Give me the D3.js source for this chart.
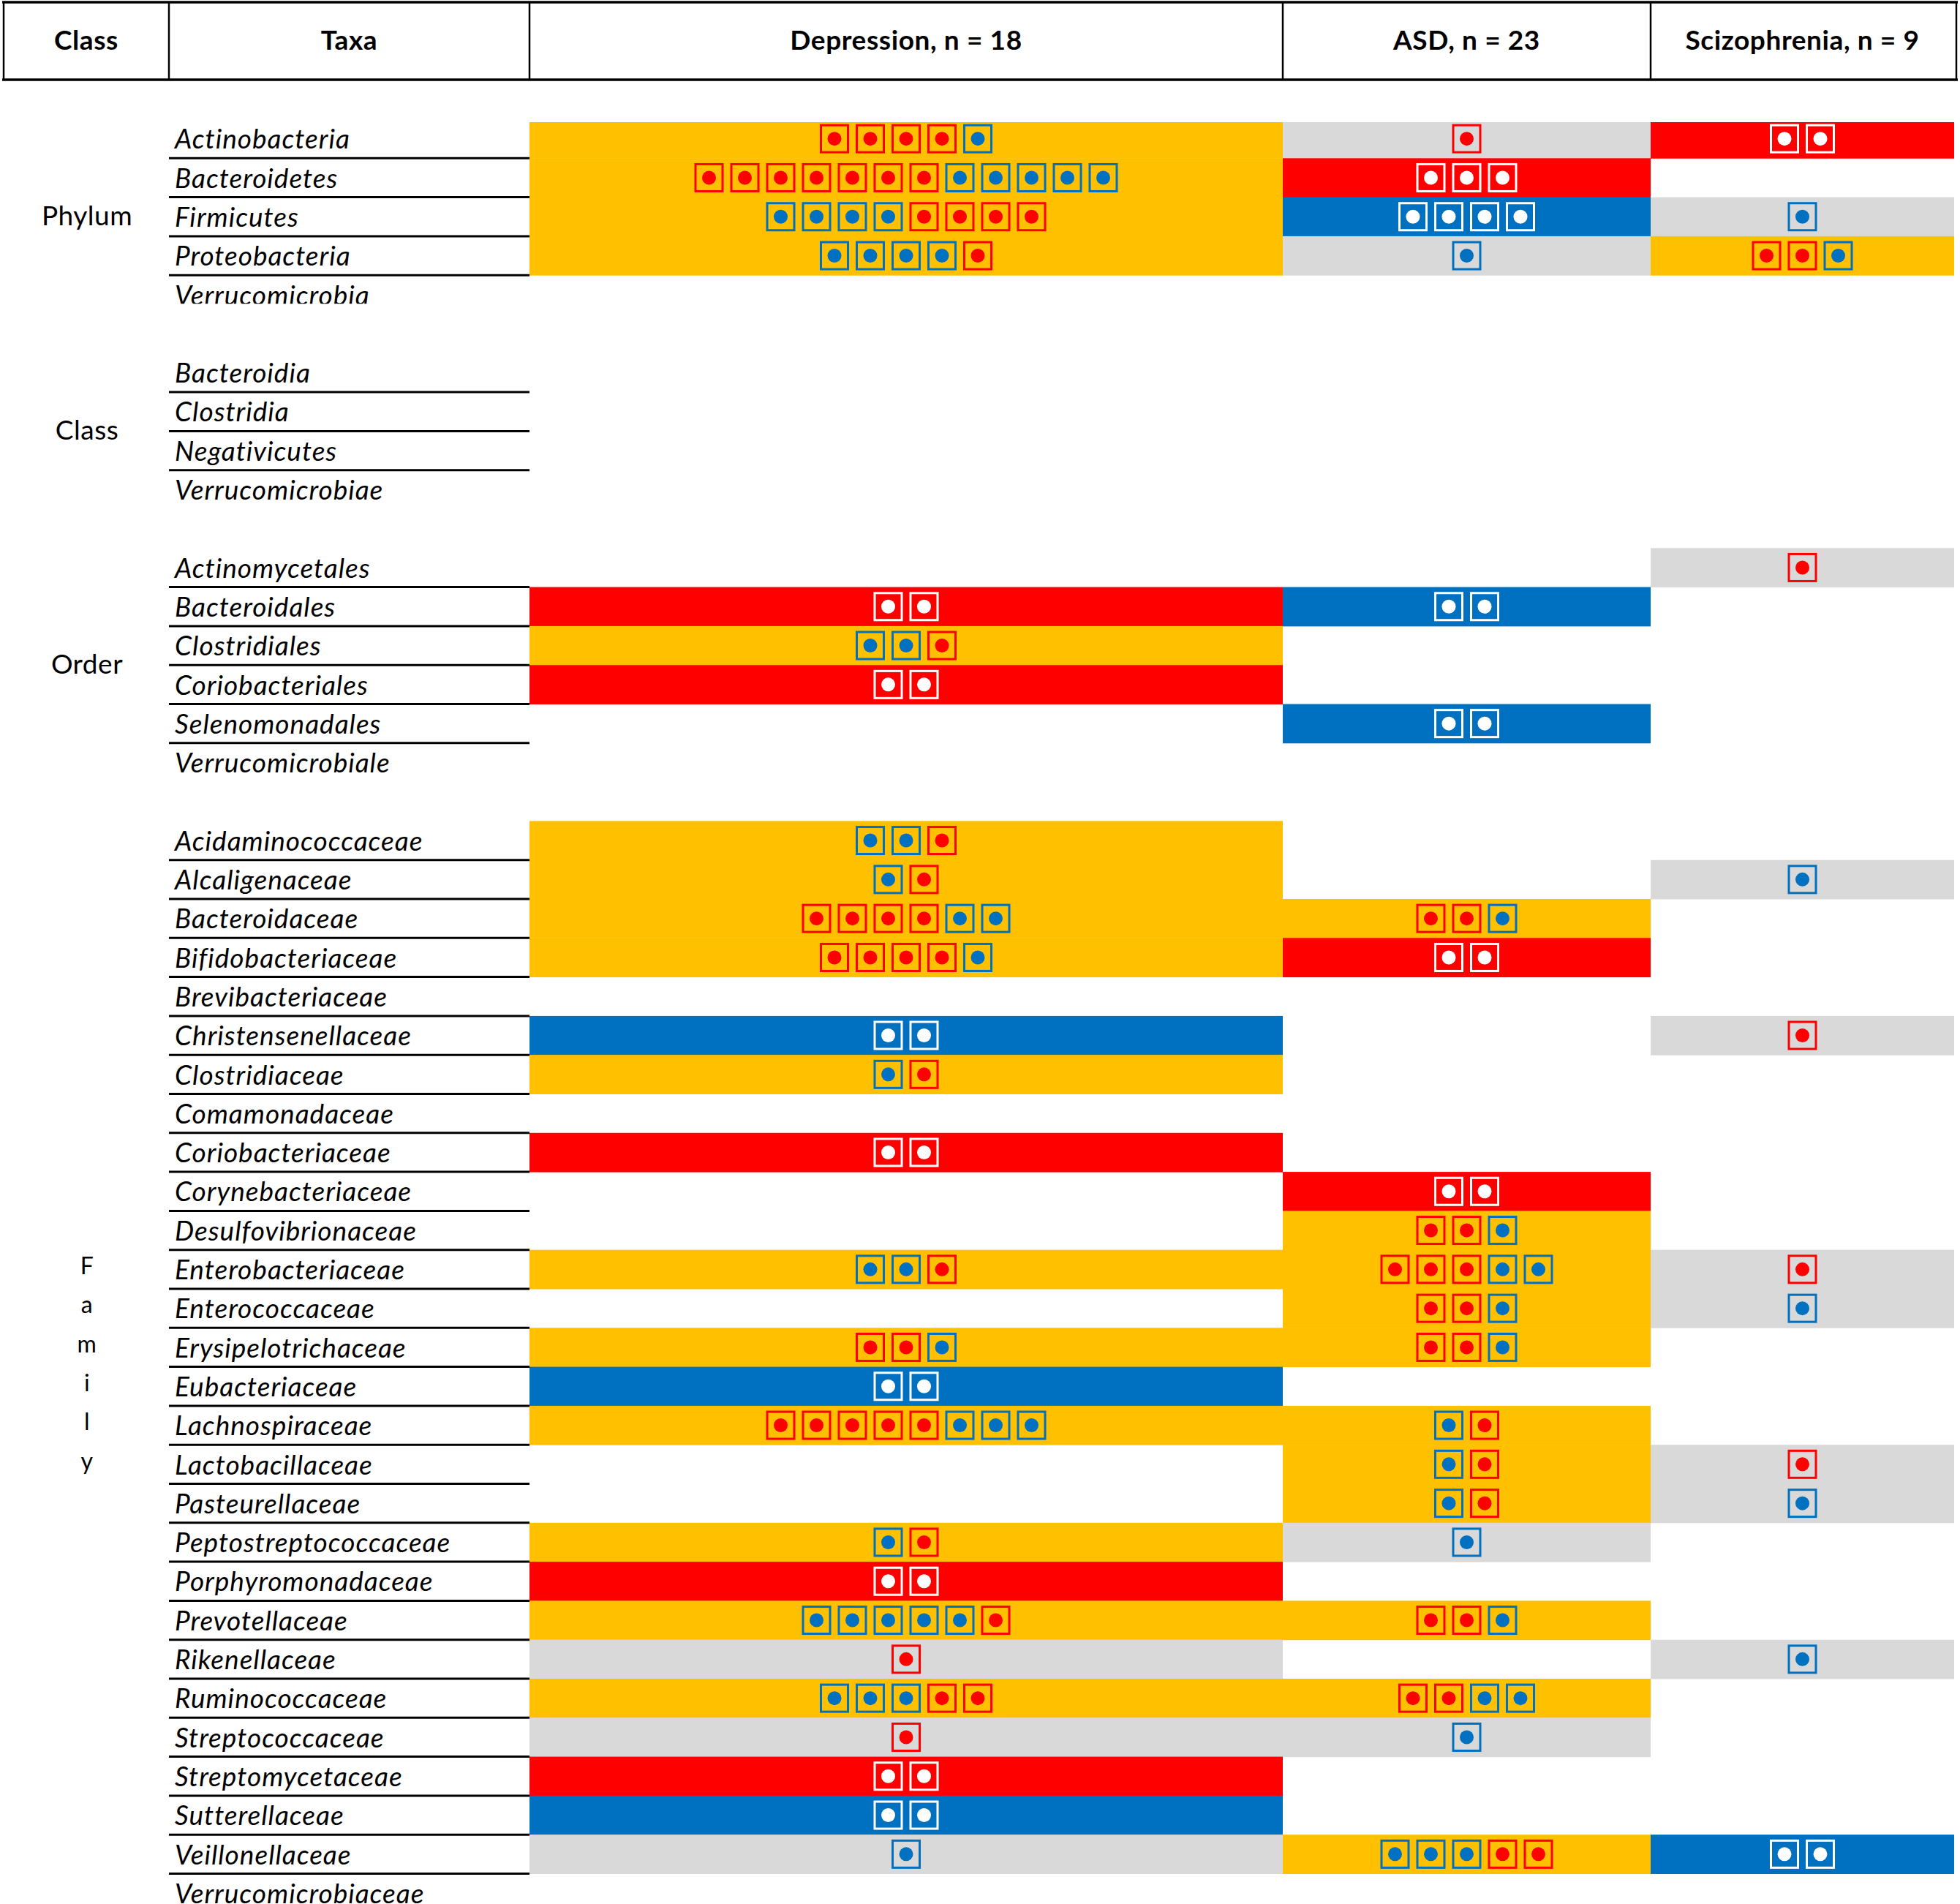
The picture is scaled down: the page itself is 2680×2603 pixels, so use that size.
<!DOCTYPE html>
<html>
<head>
<meta charset="utf-8">
<script src="https://cdn.jsdelivr.net/npm/d3@7"></script>
<style>
  body { margin: 0; background: #fff; }
  svg { display: block; }
</style>
</head>
<body>
<div class="table"></div>
<script>
// ranks and the taxa listed under each one
const ranks = ["Phylum", "Class", "Order", "Family"];
const phylumTaxa = ["Actinobacteria", "Bacteroidetes", "Firmicutes", "Proteobacteria", "Verrucomicrobia"];
const classTaxa = ["Bacteroidia", "Clostridia", "Negativicutes", "Verrucomicrobiae"];
const orderTaxa = ["Actinomycetales", "Bacteroidales", "Clostridiales", "Coriobacteriales", "Selenomonadales", "Verrucomicrobiale"];
const familyTaxa = ["Acidaminococcaceae", "Alcaligenaceae", "Bacteroidaceae", "Bifidobacteriaceae", "Brevibacteriaceae",
  "Christensenellaceae", "Clostridiaceae", "Comamonadaceae", "Coriobacteriaceae", "Corynebacteriaceae",
  "Desulfovibrionaceae", "Enterobacteriaceae", "Enterococcaceae", "Erysipelotrichaceae", "Eubacteriaceae",
  "Lachnospiraceae", "Lactobacillaceae", "Pasteurellaceae", "Peptostreptococcaceae", "Porphyromonadaceae",
  "Prevotellaceae", "Rikenellaceae", "Ruminococcaceae", "Streptococcaceae", "Streptomycetaceae",
  "Sutterellaceae", "Veillonellaceae", "Verrucomicrobiaceae"];

const diseases = ["Depression, n = 18", "ASD, n = 23", "Scizophrenia, n = 9"];

// [taxon, overall finding, one letter per study: u = increased, d = decreased]
const depression = [
  ["Actinobacteria", "mixed", "uuuud"],
  ["Bacteroidetes", "mixed", "uuuuuuuddddd"],
  ["Firmicutes", "mixed", "dddduuuu"],
  ["Proteobacteria", "mixed", "ddddu"],
  ["Bacteroidales", "up", "uu"],
  ["Clostridiales", "mixed", "ddu"],
  ["Coriobacteriales", "up", "uu"],
  ["Acidaminococcaceae", "mixed", "ddu"],
  ["Alcaligenaceae", "mixed", "du"],
  ["Bacteroidaceae", "mixed", "uuuudd"],
  ["Bifidobacteriaceae", "mixed", "uuuud"],
  ["Christensenellaceae", "down", "dd"],
  ["Clostridiaceae", "mixed", "du"],
  ["Coriobacteriaceae", "up", "uu"],
  ["Enterobacteriaceae", "mixed", "ddu"],
  ["Erysipelotrichaceae", "mixed", "uud"],
  ["Eubacteriaceae", "down", "dd"],
  ["Lachnospiraceae", "mixed", "uuuuuddd"],
  ["Peptostreptococcaceae", "mixed", "du"],
  ["Porphyromonadaceae", "up", "uu"],
  ["Prevotellaceae", "mixed", "dddddu"],
  ["Rikenellaceae", "single", "u"],
  ["Ruminococcaceae", "mixed", "ddduu"],
  ["Streptococcaceae", "single", "u"],
  ["Streptomycetaceae", "up", "uu"],
  ["Sutterellaceae", "down", "dd"],
  ["Veillonellaceae", "single", "d"]
];
const asd = [
  ["Actinobacteria", "single", "u"],
  ["Bacteroidetes", "up", "uuu"],
  ["Firmicutes", "down", "dddd"],
  ["Proteobacteria", "single", "d"],
  ["Bacteroidales", "down", "dd"],
  ["Selenomonadales", "down", "dd"],
  ["Bacteroidaceae", "mixed", "uud"],
  ["Bifidobacteriaceae", "up", "uu"],
  ["Corynebacteriaceae", "up", "uu"],
  ["Desulfovibrionaceae", "mixed", "uud"],
  ["Enterobacteriaceae", "mixed", "uuudd"],
  ["Enterococcaceae", "mixed", "uud"],
  ["Erysipelotrichaceae", "mixed", "uud"],
  ["Lachnospiraceae", "mixed", "du"],
  ["Lactobacillaceae", "mixed", "du"],
  ["Pasteurellaceae", "mixed", "du"],
  ["Peptostreptococcaceae", "single", "d"],
  ["Prevotellaceae", "mixed", "uud"],
  ["Ruminococcaceae", "mixed", "uudd"],
  ["Streptococcaceae", "single", "d"],
  ["Veillonellaceae", "mixed", "ddduu"]
];
const schizophrenia = [
  ["Actinobacteria", "up", "uu"],
  ["Firmicutes", "single", "d"],
  ["Proteobacteria", "mixed", "uud"],
  ["Actinomycetales", "single", "u"],
  ["Alcaligenaceae", "single", "d"],
  ["Christensenellaceae", "single", "u"],
  ["Enterobacteriaceae", "single", "u"],
  ["Enterococcaceae", "single", "d"],
  ["Lactobacillaceae", "single", "u"],
  ["Pasteurellaceae", "single", "d"],
  ["Rikenellaceae", "single", "d"],
  ["Veillonellaceae", "down", "dd"]
];

var width = 2680, height = 2603;
var font = "Lato, 'Open Sans', sans-serif";

// column edges (class, taxa, depression, asd, schizophrenia)
var colX = [5, 231, 724, 1754, 2257, 2672];
var headerTop = 3, headerBottom = 109;

// one row per taxon with a blank row after each rank
var rows = [];
var groups = [phylumTaxa, classTaxa, orderTaxa, familyTaxa];
groups.forEach(function (taxa, g) {
  taxa.forEach(function (t, i) {
    rows.push({ taxon: t, rank: ranks[g], last: i == taxa.length - 1 });
  });
  rows.push(null);
});
rows.pop();

var y = d3.scaleBand()
  .domain(d3.range(rows.length))
  .range([163, 163 + rows.length * 53.3]);

var rowOf = {};
rows.forEach(function (r, i) { if (r) rowOf[r.taxon] = i; });

var bgColor = d3.scaleOrdinal()
  .domain(["mixed", "up", "down", "single"])
  .range(["#FFC000", "#FF0000", "#0070C0", "#D9D9D9"]);
var markColor = d3.scaleOrdinal().domain(["u", "d"]).range(["#FF0000", "#0070C0"]);

const svg = d3.select(".table")
  .append("svg")
  .attr("width", width)
  .attr("height", height);

// header
var head = svg.append("g");
var headers = ["Class", "Taxa"].concat(diseases);
head.selectAll("text")
  .data(headers)
  .enter()
  .append("text")
  .attr("x", (d, i) => (colX[i] + colX[i + 1]) / 2)
  .attr("y", 68)
  .attr("text-anchor", "middle")
  .style("font-family", font)
  .style("font-weight", "bold")
  .style("font-size", "37px")
  .style("letter-spacing", "0.6px")
  .text((d) => d);

var headEdges = colX.slice();
headEdges[headEdges.length - 1] = 2675;
head.selectAll("line.v")
  .data(headEdges)
  .enter()
  .append("line")
  .attr("class", "v")
  .attr("x1", (d) => d).attr("x2", (d) => d)
  .attr("y1", headerTop).attr("y2", headerBottom)
  .attr("stroke", "#000")
  .attr("stroke-width", 2.5);
head.selectAll("line.h")
  .data([headerTop, headerBottom])
  .enter()
  .append("line")
  .attr("class", "h")
  .attr("x1", 3).attr("x2", 2677)
  .attr("y1", (d) => d).attr("y2", (d) => d)
  .attr("stroke", "#000")
  .attr("stroke-width", 3.5);

// coloured cells and study markers
var studies = [depression, asd, schizophrenia];
studies.forEach(function (list, c) {
  var x0 = colX[c + 2], x1 = colX[c + 3], cx = (x0 + x1) / 2;
  var g = svg.append("g");

  g.selectAll("rect.cell")
    .data(list)
    .enter()
    .append("rect")
    .attr("class", "cell")
    .attr("x", x0)
    .attr("y", (d) => rowOf[d[0]] == 0 ? y(0) + 4 : y(rowOf[d[0]]))
    .attr("width", x1 - x0)
    .attr("height", (d) => rowOf[d[0]] == 0 ? y.bandwidth() - 3.5 : y.bandwidth() + 0.5)
    .attr("fill", (d) => bgColor(d[1]));

  list.forEach(function (d) {
    var marks = d[2].split("");
    var solid = d[1] == "up" || d[1] == "down";
    var slot = d3.scaleBand()
      .domain(d3.range(marks.length))
      .range([cx - marks.length * 49 / 2, cx + marks.length * 49 / 2]);
    var cy = y(rowOf[d[0]]) + y.bandwidth() / 2;

    var m = g.selectAll(null)
      .data(marks)
      .enter()
      .append("g")
      .attr("transform", (k, i) => "translate(" + (slot(i) + slot.bandwidth() / 2) + "," + cy + ")");
    m.append("rect")
      .attr("x", -18.5).attr("y", -18.5)
      .attr("width", 37).attr("height", 37)
      .attr("fill", "none")
      .attr("stroke", (k) => solid ? "#fff" : markColor(k))
      .attr("stroke-width", 3);
    m.append("circle")
      .attr("r", 9.5)
      .attr("fill", (k) => solid ? "#fff" : markColor(k));
  });
});

// taxa labels and underlines
var body = svg.append("g");
var named = rows.map((r, i) => ({ r: r, i: i })).filter((d) => d.r);

svg.append("clipPath")
  .attr("id", "cut")
  .append("rect")
  .attr("x", 0).attr("y", 0)
  .attr("width", width)
  .attr("height", y(phylumTaxa.length - 1) + 39);

body.selectAll("text.taxon")
  .data(named)
  .enter()
  .append("text")
  .attr("class", "taxon")
  .attr("x", 239)
  .attr("y", (d) => y(d.i) + y.bandwidth() - 13)
  .attr("clip-path", (d) => d.r.taxon == phylumTaxa[phylumTaxa.length - 1] ? "url(#cut)" : null)
  .style("font-family", font)
  .style("font-style", "italic")
  .style("font-size", "37px")
  .style("letter-spacing", "1px")
  .text((d) => d.r.taxon);

body.selectAll("line.under")
  .data(named.filter((d) => !d.r.last))
  .enter()
  .append("line")
  .attr("class", "under")
  .attr("x1", colX[1]).attr("x2", colX[2])
  .attr("y1", (d) => y(d.i) + y.bandwidth())
  .attr("y2", (d) => y(d.i) + y.bandwidth())
  .attr("stroke", "#000")
  .attr("stroke-width", 3);

// rank labels, centred on their block of rows
var rankLabels = [];
groups.forEach(function (taxa, g) {
  var first = rowOf[taxa[0]], last = rowOf[taxa[taxa.length - 1]];
  var mid = (first + last) / 2;
  if (ranks[g] == "Family") {
    // written one letter per row
    var letters = ranks[g].split("");
    letters.forEach(function (ch, k) {
      var r = mid - (letters.length - 1) / 2 + k;
      rankLabels.push({ text: ch, y: y(r) + y.bandwidth() - 20, size: 32 });
    });
  } else {
    rankLabels.push({ text: ranks[g], y: y(Math.floor(mid)) + y.bandwidth() * (mid - Math.floor(mid) + 0.5) + 12, size: 37 });
  }
});

body.selectAll("text.rank")
  .data(rankLabels)
  .enter()
  .append("text")
  .attr("class", "rank")
  .attr("x", (colX[0] + colX[1]) / 2 + 1)
  .attr("y", (d) => d.y)
  .attr("text-anchor", "middle")
  .style("font-family", font)
  .style("font-size", (d) => d.size + "px")
  .style("letter-spacing", "0.5px")
  .text((d) => d.text);
</script>
</body>
</html>
